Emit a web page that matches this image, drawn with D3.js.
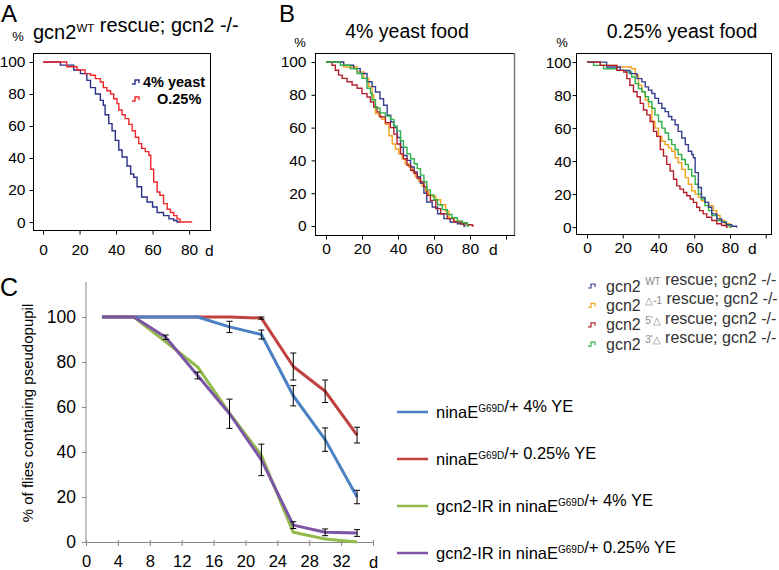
<!DOCTYPE html>
<html>
<head>
<meta charset="utf-8">
<script src="https://cdn.jsdelivr.net/npm/d3@7"></script>
<style>
  body { margin: 0; background: #fff; }
  svg { display: block; font-family: "Liberation Sans", Arial, sans-serif; }
</style>
</head>
<body>
<div id="chart"></div>
<script>
// ---------- data ----------
// panel A: survival (%) over days, [day, pct] where each step starts
const aYeast4 = [[0,100],[9.5,98],[16.8,95],[20.5,92.7],[24,88.5],[26,84],[28.7,80],[31.4,76],[33,73],[34,67],[36,61.5],[37.8,57],[39.6,51],[41.5,45],[43.3,40.6],[46,35],[48,30],[49.7,28],[51.5,22],[54,15.6],[57,12.5],[60,9.4],[62.5,6],[66,4],[69,2],[71.6,1],[73.4,0],[75,0]];
const aYeast025 = [[0,100],[13,97],[18.6,95],[23,92.7],[26,91.7],[28.7,89.6],[31.4,87.5],[33,84],[35,82],[37,80],[38.7,77],[40.5,74],[41.5,70],[43.3,67],[45,64.6],[47,61],[48.8,57],[50.6,53],[52.4,49],[54,46],[56,44],[58,41.7],[59,33],[60.6,25],[62.5,18.8],[64,16.7],[66,11.5],[68,8],[69.8,6],[71.6,4],[73.4,2],[75,0],[81.7,0]];

// panel B, 4% yeast food
const b4WT   = [[0,100],[9.8,98],[15.4,96],[19,93],[22.8,88],[25.6,85],[27.5,81.7],[30,77.6],[32,73.6],[34,67.5],[36,63.4],[37.7,60],[39.5,54],[41.4,48],[43,43],[45,40],[47,36],[49,33],[50.7,30],[52.5,26],[54.4,20],[56,14.6],[59,11.6],[62,7.5],[65.5,4.5],[69,2.4],[73,1.4],[76.7,0],[77.5,0]];
const b4Del1 = [[0,100],[9.8,97],[17.3,94],[21,90],[23.8,85],[25.6,80],[26.5,74],[27.5,68.5],[29.3,67],[31,65],[33,62],[35,55],[36.8,50],[38.6,47],[40.5,44],[42.3,41],[44,38],[46,36],[48,33],[49.7,30],[51.6,27],[53.5,24],[55.3,21],[57,19],[59,18],[61,16],[63.7,13],[66.4,9],[68.3,5],[71,3],[75,1],[76.7,0],[77.5,0]];
const b4Del5 = [[0,100],[3.3,98],[5.2,95],[7,92],[9,90],[11.7,88],[14.5,86],[17.3,84],[20,80.7],[22.8,78.7],[24.7,75.6],[26.5,72.6],[28.4,69.5],[30,66.5],[33,63],[35.8,60],[37.7,56],[39.5,50],[41.4,44],[43,41],[45,37],[47,34],[49,32],[50.7,29],[52.5,27],[54.4,24],[56,18.7],[58,15.6],[61,10.6],[63.7,7.5],[67.4,4.5],[71,2.4],[75,1.4],[78.5,0.8],[81.3,0],[82,0]];
const b4Del3 = [[0,100],[8,98],[13.5,96],[17.3,93],[20,90],[22.8,84],[24.7,81],[25.6,77],[27.5,72],[30,69],[33,67],[35.8,65],[37.7,61],[39.5,58],[41.4,52],[43,48],[45,44],[47,41],[49,38],[50.7,35],[52.5,31],[54.4,27],[56,22],[58,19],[60,16],[62,13],[64.6,10],[67.4,7],[70,5],[73,3],[75.8,2],[78.5,0],[79.5,0]];

// panel B, 0.25% yeast food
const b025WT   = [[0,100],[11,97],[18.6,95],[24,93],[28,90],[30.7,88],[32.6,85],[34.4,83],[36.3,81],[38,78],[40,75],[41.9,72],[43.7,70],[45.6,67],[47.4,65],[49.3,62],[51,58],[53,54],[55,50],[56.7,46],[58.6,44],[59.5,42],[60.5,33],[62.3,24],[64,18],[66,15],[68,12],[69.8,8],[72.6,5],[75.3,3],[78,1.5],[81,0.5],[83.7,0],[84,0]];
const b025Del1 = [[0,100],[7.4,98],[16.7,97],[25,96],[27,92],[28.8,86],[30.7,82],[32.6,77],[34.4,73],[36.3,64],[38,60],[40,55],[41.9,52],[43.7,50],[45.6,48],[47.4,46],[49.3,42],[51,39],[53,35],[55,30],[56.7,26],[58.6,22],[60.5,20],[62.3,18],[64,16],[66,15],[68,13],[70.7,10],[72.6,7],[74.4,4],[77,2],[80,0],[81,0]];
const b025Del5 = [[0,100],[7.4,98],[16.7,95],[20.5,94],[22.3,90],[24,86],[26,82],[28,79],[29.8,75],[31.6,71],[33.5,68],[35.3,64],[37.2,58],[39,55],[41,47],[42.8,43],[44.6,38],[46.5,34],[48.4,29],[50.2,25],[52,23],[54,21],[55.8,19],[57.7,17],[59.5,15],[61.4,12],[63,10],[65,8],[67,6],[69.8,4],[72.6,2],[75.3,1],[78,0],[79,0]];
const b025Del3 = [[0,100],[3.7,98],[9.3,96],[16.7,95],[22.3,94],[25,91],[27,87],[28.8,84],[30.7,82],[32.6,79],[34.4,76],[36.3,72],[38,68],[40,64],[41.9,60],[43.7,57],[45.6,53],[47.4,50],[49.3,47],[51,44],[53,41],[55,38],[56.7,35],[58.6,31],[60.5,26],[62.3,20],[64,17],[66,13],[68,10],[69.8,7],[72.6,4],[75.3,3],[78,1],[80,0],[81,0]];

// panel C: % of flies containing pseudopupil
const cDays = [2, 6, 10, 14, 18, 22, 26, 30, 34];
const cNina4   = [100, 100, 100, 100, 95.6, 92.2, 65, 45.5, 20];
const cNina025 = [100, 100, 100, 100, 100, 99.5, 78, 67, 47.5];
const cIR4     = [100, 100, 89, 77.8, 57.3, 38.5, 4.3, 1.3, 0];
const cIR025   = [100, 100, 91, 74, 57, 36.5, 7.5, 4.3, 4];
const cErrNina4   = [0, 0, 0, 0, 2.5, 2, 4.5, 5.2, 3];
const cErrNina025 = [0, 0, 0, 0, 0, 0.5, 6, 5, 3.5];
const cErrIR025   = [0, 0, 1, 1.5, 6.5, 7, 1.5, 1.5, 1.5];

const survTicks = [0, 20, 40, 60, 80, 100];
const dayTicksAB = [0, 20, 40, 60, 80];
const dayTicksC = [0, 4, 8, 12, 16, 20, 24, 28, 32];

// ---------- drawing ----------
const width = 779, height = 570;
const svg = d3.select("#chart").append("svg")
  .attr("width", width).attr("height", height);

function richText(parent, x, y, parts, size, anchor, fill) {
  const t = parent.append("text")
    .attr("x", x).attr("y", y)
    .attr("font-size", size)
    .attr("fill", fill || "#000")
    .attr("text-anchor", anchor || "start");
  parts.forEach(p => {
    if (typeof p === "string") {
      t.append("tspan").text(p);
    } else {
      t.append("tspan")
        .attr("font-size", p.size || size * 0.6)
        .attr("dy", p.dy || -size * 0.38)
        .attr("fill", p.fill || null)
        .text(p.sup);
      t.append("tspan").attr("dy", -(p.dy || -size * 0.38)).text("");
    }
  });
  return t;
}

function survivalPanel(opt) {
  const x = d3.scaleLinear().domain(opt.xDomain).range([opt.left, opt.right]);
  const y = d3.scaleLinear().domain(opt.yDomain).range([opt.bottom, opt.top]);
  const g = svg.append("g");

  // frame
  g.append("line").attr("x1", opt.left).attr("x2", opt.right)
    .attr("y1", opt.top + 0.5).attr("y2", opt.top + 0.5).attr("stroke", "#000");
  g.append("line").attr("x1", opt.right - 0.5).attr("x2", opt.right - 0.5)
    .attr("y1", opt.top).attr("y2", opt.bottom).attr("stroke", opt.rightColor || "#000")
    .attr("stroke-width", opt.rightWidth || 1);

  const xAxis = g.append("g")
    .attr("transform", `translate(0,${opt.bottom - 0.5})`)
    .call(d3.axisBottom(x).tickValues(opt.xTicks).tickSize(4).tickSizeOuter(0)
      .tickPadding(opt.xPad).tickFormat(d3.format("d")));
  xAxis.selectAll("text").attr("font-size", opt.tickFont).attr("fill", "#000")
    .attr("font-family", "Liberation Sans, Arial, sans-serif");
  xAxis.select(".domain").attr("d", `M${opt.left},0H${opt.right}`);
  xAxis.selectAll(".tick").filter(d => d === 100).select("text").remove();

  const yAxis = g.append("g")
    .attr("transform", `translate(${opt.left + 0.5},0)`)
    .call(d3.axisLeft(y).tickValues(survTicks).tickSize(4).tickSizeOuter(0)
      .tickPadding(opt.yPad));
  yAxis.selectAll("text").attr("font-size", opt.tickFont).attr("fill", "#000")
    .attr("font-family", "Liberation Sans, Arial, sans-serif");
  yAxis.select(".domain").attr("d", `M0,${opt.top}V${opt.bottom}`);

  const line = d3.line().x(d => x(d[0])).y(d => y(d[1])).curve(d3.curveStepAfter);
  opt.series.forEach(s => {
    g.append("path").datum(s.data)
      .attr("d", line)
      .attr("fill", "none")
      .attr("stroke", s.color)
      .attr("stroke-width", 1.4);
  });

  // "d" label + "%" label
  g.append("text").attr("x", opt.dX).attr("y", opt.bottom + opt.xPad + 4 + opt.tickFont * 0.75)
    .attr("font-size", opt.tickFont).text("d");
  g.append("text").attr("x", opt.pctX).attr("y", opt.pctY)
    .attr("font-size", opt.pctFont || 13).attr("text-anchor", "middle").text("%");
  return { x, y, g };
}

const navy = "#2b2f86", brightRed = "#f0262a";
const cWT = "#35408f", cDel1 = "#f5a21e", cDel5 = "#b3202c", cDel3 = "#2fb14b";

// ---- Panel A ----
svg.append("text").attr("x", 1).attr("y", 22).attr("font-size", 24).text("A");
richText(svg, 33, 39, ["gcn2", { sup: "WT", size: 11.5, dy: -7 }, " rescue; gcn2 -/-"], 20);
survivalPanel({
  left: 33, right: 211, top: 53, bottom: 231,
  xDomain: [-5.5, 92], yDomain: [-5.6, 105.6],
  xTicks: dayTicksAB, xPad: 9, yPad: 4, tickFont: 15.5,
  dX: 205, pctX: 18, pctY: 41, pctFont: 13,
  series: [{ data: aYeast4, color: navy }, { data: aYeast025, color: brightRed }]
});
// legend A
const stepSym = (g, x, y, c) => g.append("path")
  .attr("d", `M${x},${y + 2}h3V${y - 2}h4V${y + 1}`)
  .attr("fill", "none").attr("stroke", c).attr("stroke-width", 1.4);
stepSym(svg, 132, 82, navy);
stepSym(svg, 132, 99, brightRed);
svg.append("text").attr("x", 143).attr("y", 87).attr("font-size", 14.5)
  .attr("font-weight", "bold").text("4% yeast");
svg.append("text").attr("x", 157).attr("y", 104).attr("font-size", 14.5)
  .attr("font-weight", "bold").text("O.25%");

// ---- Panel B ----
svg.append("text").attr("x", 279).attr("y", 22).attr("font-size", 24).text("B");
svg.append("text").attr("x", 407).attr("y", 38).attr("font-size", 19.5)
  .attr("text-anchor", "middle").text("4% yeast food");
survivalPanel({
  left: 315, right: 515, top: 53, bottom: 236,
  xDomain: [-6.1, 105], yDomain: [-6.1, 105.5],
  xTicks: [0, 20, 40, 60, 80, 100], xPad: 3, yPad: 5, tickFont: 15.5,
  dX: 489, pctX: 300, pctY: 47, pctFont: 13,
  rightColor: "#777", rightWidth: 1.5,
  series: [
    { data: b4Del1, color: cDel1 }, { data: b4WT, color: cWT },
    { data: b4Del5, color: cDel5 }, { data: b4Del3, color: cDel3 }
  ]
});

svg.append("text").attr("x", 682).attr("y", 38).attr("font-size", 19.5)
  .attr("text-anchor", "middle").text("0.25% yeast food");
survivalPanel({
  left: 576, right: 772, top: 53, bottom: 235,
  xDomain: [-6.15, 103.5], yDomain: [-4.8, 105.5],
  xTicks: [0, 20, 40, 60, 80, 100], xPad: 3, yPad: 1, tickFont: 15.5,
  dX: 748, pctX: 562, pctY: 47, pctFont: 13,
  series: [
    { data: b025Del1, color: cDel1 }, { data: b025Del3, color: cDel3 },
    { data: b025WT, color: cWT }, { data: b025Del5, color: cDel5 }
  ]
});

// legend B
const legB = [
  { sup: "WT", color: cWT },
  { sup: "\u25B3-1", color: cDel1 },
  { sup: "5'\u25B3", color: cDel5 },
  { sup: "3'\u25B3", color: cDel3 }
];
legB.forEach((d, i) => {
  const yy = 286 + i * 19.4;
  stepSym(svg, 588, yy, d.color).attr("stroke-width", 1.2);
  richText(svg, 606, yy + 5.5,
    ["gcn2 ", { sup: d.sup, size: 10, dy: -6.5, fill: "#888" }, " rescue; gcn2 -/-"], 16, "start", "#333");
});

// ---- Panel C ----
svg.append("text").attr("x", 0).attr("y", 296).attr("font-size", 25).text("C");
const xC = d3.scaleLinear().domain([0, 36]).range([86, 373]);
const yC = d3.scaleLinear().domain([0, 100]).range([542, 317]);
const gC = svg.append("g");

const xAxC = gC.append("g").attr("transform", "translate(0,542)")
  .call(d3.axisBottom(xC).tickValues(d3.range(0, 37, 4)).tickSize(4).tickSizeOuter(0).tickPadding(9));
xAxC.selectAll("text").attr("font-size", 16.5).attr("fill", "#000")
  .attr("font-family", "Liberation Sans, Arial, sans-serif");
xAxC.selectAll(".tick").filter(d => !dayTicksC.includes(d)).select("text").remove();
xAxC.selectAll("line, path").attr("stroke", "#888");
xAxC.selectAll(".tick line").attr("y1", -2);

const yAxC = gC.append("g").attr("transform", "translate(86,0)")
  .call(d3.axisLeft(yC).tickValues(survTicks).tickSize(4).tickSizeOuter(0).tickPadding(6));
yAxC.selectAll("text").attr("font-size", 17.5).attr("fill", "#000")
  .attr("font-family", "Liberation Sans, Arial, sans-serif");
yAxC.selectAll("line, path").attr("stroke", "#888");
yAxC.select(".domain").attr("d", "M0,282V542");

gC.append("text").attr("x", 369).attr("y", 568).attr("font-size", 16.5).text("d");
gC.append("text")
  .attr("transform", "translate(33,413) rotate(-90)")
  .attr("text-anchor", "middle").attr("font-size", 15)
  .text("% of flies containing pseudopupil");

const colNina4 = "#4a80c4", colNina025 = "#c0413d", colIR4 = "#93bb4c", colIR025 = "#7c55a6";
const seriesC = [
  { vals: cNina025, err: cErrNina025, color: colNina025 },
  { vals: cNina4, err: cErrNina4, color: colNina4 },
  { vals: cIR4, err: null, color: colIR4 },
  { vals: cIR025, err: cErrIR025, color: colIR025 }
];
const lineC = d3.line().x((d, i) => xC(cDays[i])).y(d => yC(d));
seriesC.forEach(s => {
  gC.append("path").datum(s.vals).attr("d", lineC)
    .attr("fill", "none").attr("stroke", s.color).attr("stroke-width", 3)
    .attr("stroke-linejoin", "round");
});
seriesC.filter(s => s.err).forEach(s => {
  s.vals.forEach((v, i) => {
    const e = s.err[i];
    if (!e) return;
    const cx = xC(cDays[i]);
    const eg = gC.append("g").attr("stroke", "#000").attr("stroke-width", 1);
    eg.append("line").attr("x1", cx).attr("x2", cx).attr("y1", yC(v - e)).attr("y2", yC(v + e));
    eg.append("line").attr("x1", cx - 3).attr("x2", cx + 3).attr("y1", yC(v - e)).attr("y2", yC(v - e));
    eg.append("line").attr("x1", cx - 3).attr("x2", cx + 3).attr("y1", yC(v + e)).attr("y2", yC(v + e));
  });
});

// legend C
const legC = [
  { parts: ["ninaE", { sup: "G69D", size: 10, dy: -6.5 }, "/+ 4% YE"], color: colNina4 },
  { parts: ["ninaE", { sup: "G69D", size: 10, dy: -6.5 }, "/+ 0.25% YE"], color: colNina025 },
  { parts: ["gcn2-IR in ninaE", { sup: "G69D", size: 10, dy: -6.5 }, "/+ 4% YE"], color: colIR4 },
  { parts: ["gcn2-IR in ninaE", { sup: "G69D", size: 10, dy: -6.5 }, "/+ 0.25% YE"], color: colIR025 }
];
legC.forEach((d, i) => {
  const yy = 412 + i * 47;
  svg.append("line").attr("x1", 397).attr("x2", 428).attr("y1", yy).attr("y2", yy)
    .attr("stroke", d.color).attr("stroke-width", 2.5);
  richText(svg, 436, yy + 6, d.parts, 16.5);
});
</script>
</body>
</html>
